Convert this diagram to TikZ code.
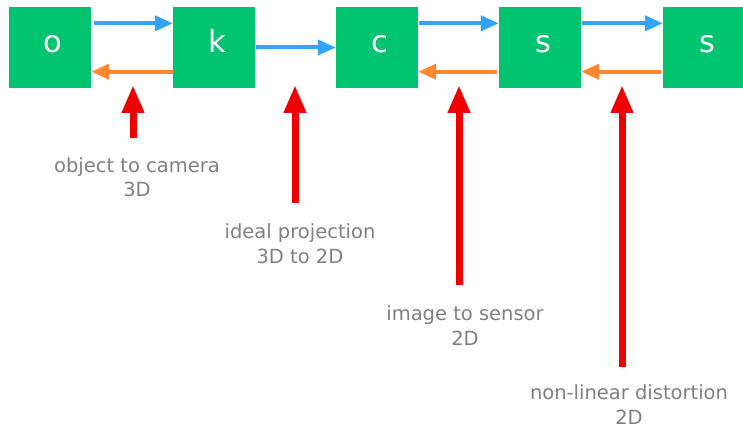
\documentclass[tikz,border=0pt]{standalone}
\usepackage{fontspec}
\setmainfont{DejaVu Sans}
\usetikzlibrary{arrows.meta}
\definecolor{boxgreen}{RGB}{0,196,112}
\definecolor{fwdblue}{RGB}{48,164,255}
\definecolor{backorange}{RGB}{255,136,46}
\definecolor{markred}{RGB}{238,0,0}
\definecolor{labelgray}{RGB}{128,128,128}
\begin{document}
\begin{tikzpicture}[x=1pt,y=-1pt,
  stage/.style={fill=boxgreen, text=white, minimum width=82pt, minimum height=81pt,
    inner sep=0pt, text height=11pt, text depth=0pt,
    execute at begin node={\hspace*{6pt}},
    font=\fontsize{30.5}{34}\selectfont},
  fwd/.style={draw=fwdblue, line width=4pt, -{Triangle[length=18pt,width=15pt]}},
  back/.style={draw=backorange, line width=4pt, -{Triangle[length=18pt,width=15pt]}},
  pointer/.style={draw=markred, line width=7pt, -{Triangle[length=28pt,width=21pt]}},
  caption/.style={text=labelgray, align=center, inner sep=0pt, anchor=base,
    font=\fontsize{19.5}{24.5}\selectfont}]
  \useasboundingbox (0,0) rectangle (743,427);
  \begin{scope}
  \clip (0,0) rectangle (743,427);

  % transformation stages
  \node[stage] (o)  at (50,47.5)  {o};
  \node[stage] (k)  at (214,47.5) {k};
  \node[stage] (c)  at (377,47.5) {c};
  \node[stage] (s1) at (540,47.5) {s};
  \node[stage] (s2) at (704,47.5) {s};

  % forward chain
  \draw[fwd] ([xshift=3pt,yshift=-16.5pt]o.north east) -- ([yshift=-16.5pt]k.north west);
  \draw[fwd] ([xshift=1pt]k.east) -- (c.west);
  \draw[fwd] ([xshift=1pt,yshift=-16.5pt]c.north east) -- ([yshift=-16.5pt]s1.north west);
  \draw[fwd] ([xshift=1pt,yshift=-16.5pt]s1.north east) -- ([yshift=-16.5pt]s2.north west);

  % inverse chain
  \draw[back] ([yshift=16.5pt]k.south west) -- ([yshift=16.5pt]o.south east);
  \draw[back] ([xshift=-2pt,yshift=16.5pt]s1.south west) -- ([yshift=16.5pt]c.south east);
  \draw[back] ([xshift=-2pt,yshift=16.5pt]s2.south west) -- ([yshift=16.5pt]s1.south east);

  % captions (anchored on the baseline of the last line)
  \node[caption] (l1) at (137,197) {object to camera\\3D};
  \node[caption] (l2) at (300,263) {ideal projection\\3D to 2D};
  \node[caption] (l3) at (465,345) {image to sensor\\2D};
  \node[caption] (l4) at (629,424) {non-linear distortion\\2D};

  % pointers to the stage transitions
  \coordinate (p1) at (133,138); \coordinate (t1) at (133,85);
  \coordinate (p2) at (295,203); \coordinate (t2) at (295,85);
  \coordinate (p3) at (459,285); \coordinate (t3) at (459,85);
  \coordinate (p4) at (622,367); \coordinate (t4) at (622,85);
  \draw[pointer] (p1) -- (t1);
  \draw[pointer] (p2) -- (t2);
  \draw[pointer] (p3) -- (t3);
  \draw[pointer] (p4) -- (t4);
  \end{scope}
\end{tikzpicture}
\end{document}
